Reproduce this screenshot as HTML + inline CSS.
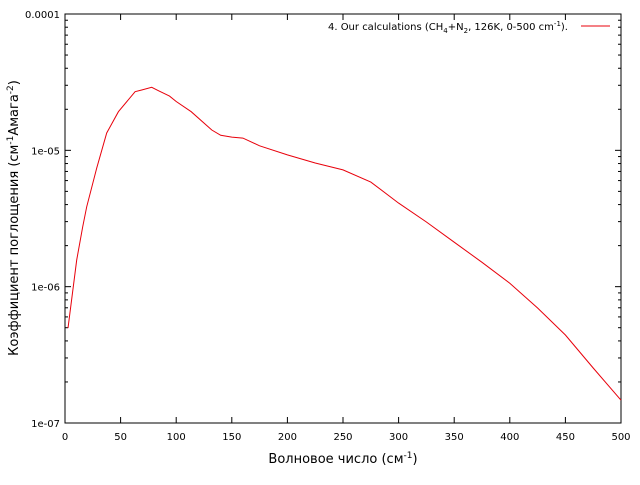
<!DOCTYPE html>
<html><head><meta charset="utf-8"><style>
body{margin:0;background:#fff;width:640px;height:480px;overflow:hidden}
svg{font-family:"DejaVu Sans","Liberation Sans",sans-serif}
</style></head><body>
<svg id="chart" width="640" height="480" viewBox="0 0 640 480" xmlns="http://www.w3.org/2000/svg">
<g id="axes"></g>
<path id="series" fill="none" stroke="#e8000b" stroke-width="1"/>
<text x="568" y="30" font-size="10" text-anchor="end">4. Our  calculations (CH<tspan font-size="7" dy="3">4</tspan><tspan dy="-3">+N</tspan><tspan font-size="7" dy="3">2</tspan><tspan dy="-3">, 126K, 0-500 cm</tspan><tspan font-size="7" dy="-4">-1</tspan><tspan dy="4">).</tspan></text>
<line x1="581" y1="26" x2="610" y2="26" stroke="#e8000b"/>
<text x="343" y="463" font-size="13" text-anchor="middle">Волновое число (см<tspan font-size="9" dy="-5">-1</tspan><tspan dy="5">)</tspan></text>
<text transform="translate(18,218) rotate(-90)" font-size="13" text-anchor="middle">Коэффициент поглощения (см<tspan font-size="9" dy="-5">-1</tspan><tspan dy="5">Амага</tspan><tspan font-size="9" dy="-5">-2</tspan><tspan dy="5">)</tspan></text>
</svg>
<script>
const waveNumbers=[2.7,10.5,15.9,19.5,28.5,37.5,48,63,69,78,84,94,100,113.5,132,140,150,160,175,200,225,250,275,300,325,350,375,400,425,450,475,500];
const absorption=[4.97e-7,1.57e-6,2.75e-6,3.85e-6,7.41e-6,1.34e-5,1.92e-5,2.69e-5,2.77e-5,2.90e-5,2.74e-5,2.50e-5,2.28e-5,1.92e-5,1.41e-5,1.29e-5,1.25e-5,1.23e-5,1.08e-5,9.25e-6,8.07e-6,7.18e-6,5.85e-6,4.10e-6,2.98e-6,2.12e-6,1.51e-6,1.06e-6,6.97e-7,4.42e-7,2.53e-7,1.47e-7];
const xTicks=[0,50,100,150,200,250,300,350,400,450,500];
const yTickLabels=["1e-07","1e-06","1e-05","0.0001"];
const yTickValues=[1e-7,1e-6,1e-5,1e-4];
const L=65,R=621,T=14,B=423;
const xs=v=>L+(v-0)/(500-0)*(R-L);
const ys=v=>B-(Math.log10(v)-(-7))/3*(B-T);
const NS="http://www.w3.org/2000/svg";
const g=document.getElementById('axes');
function mk(t,a){const e=document.createElementNS(NS,t);for(const k in a)e.setAttribute(k,a[k]);g.appendChild(e);return e;}
const fr=mk('rect',{x:L,y:T,width:R-L,height:B-T,fill:'none',stroke:'#000','stroke-width':1});


xTicks.forEach(v=>{const x=xs(v);
const t1=mk('line',{x1:x,y1:B,x2:x,y2:B-6,stroke:'#000'});


const t2=mk('line',{x1:x,y1:T,x2:x,y2:T+6,stroke:'#000'});


const tx=mk('text',{x:x,y:B+17,'font-size':10,'text-anchor':'middle'});tx.textContent=v;

});
yTickValues.forEach((v,i)=>{const y=ys(v);
const t1=mk('line',{x1:L,y1:y,x2:L+6,y2:y,stroke:'#000'});


const t2=mk('line',{x1:R,y1:y,x2:R-6,y2:y,stroke:'#000'});


const tx=mk('text',{x:L-5,y:y+4,'font-size':10,'text-anchor':'end'});tx.textContent=yTickLabels[i];


if(i<yTickValues.length-1)for(let m=2;m<=9;m++){const yy=ys(v*m);
const a=mk('line',{x1:L,y1:yy,x2:L+3,y2:yy,stroke:'#000'});


const b=mk('line',{x1:R,y1:yy,x2:R-3,y2:yy,stroke:'#000'});

}});
document.getElementById('series').setAttribute('d',waveNumbers.map((w,i)=>(i?'L':'M')+xs(w).toFixed(1)+','+ys(absorption[i]).toFixed(1)).join(''));
</script>
</body></html>
